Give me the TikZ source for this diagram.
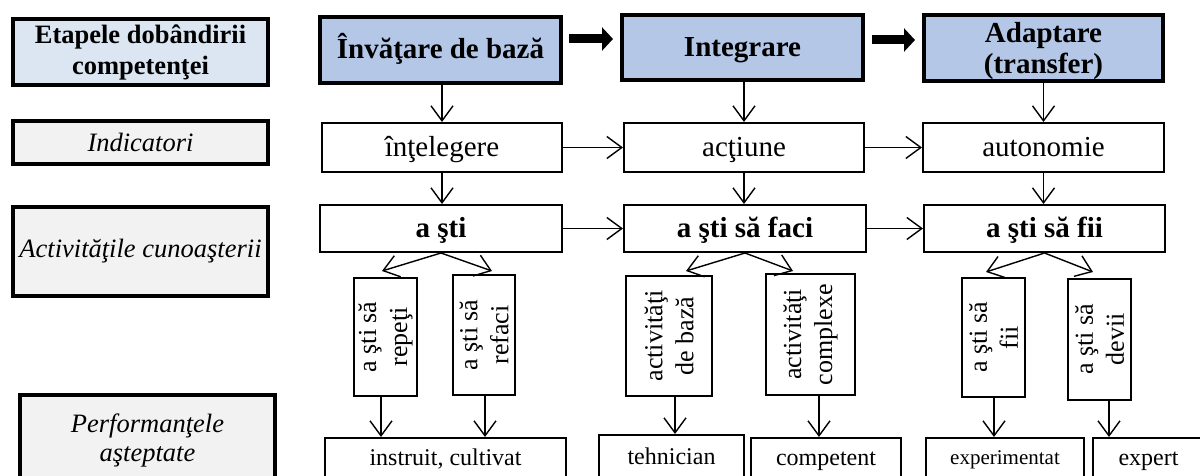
\documentclass[tikz,border=0pt]{standalone}
\usepackage{fontspec}
\setmainfont{Liberation Serif}
\usepackage{graphicx}
\usetikzlibrary{arrows.meta,calc}
\definecolor{stagefill}{HTML}{B4C7E7}
\definecolor{headfill}{HTML}{DCE6F2}
\definecolor{greyfill}{HTML}{F2F2F2}
\tikzset{
  lbl/.style={draw, line width=4pt, inner sep=0pt, align=center},
  stage/.style={draw, line width=4pt, fill=stagefill, inner sep=0pt,
    font=\fontsize{29}{31}\selectfont\bfseries},
  box/.style={draw, line width=2pt, inner sep=0pt, fill=white},
  line29/.style={text height=21.75pt, text depth=4.35pt},
  line24/.style={text height=18pt, text depth=3.6pt},
  indtxt/.style={line29, font=\fontsize{29}{32}\selectfont},
  acttxt/.style={line29, font=\fontsize{29}{31}\selectfont\bfseries},
  perftxt/.style={line24, font=\fontsize{24}{27}\selectfont},
  vtxt/.style={rotate=90, inner sep=0pt, align=center, font=\fontsize{26}{31}\selectfont},
  arr/.style={line width=1.4pt, -{Straight Barb[length=15pt, width=22pt]}},
  bigarr/.style={line width=9pt, -{Triangle[length=11pt, width=23pt]}}
}
\begin{document}
\begin{tikzpicture}[x=1pt, y=-1pt]
\useasboundingbox (0,0) rectangle (1200,476);
\clip (0,0) rectangle (1200,476);

% row labels
\node[lbl, fill=headfill, minimum width=255pt, minimum height=66pt,
  font=\fontsize{26.5}{31}\selectfont\bfseries] (h1) at (140.5,52) {Etapele dobândirii\\competenţei};
\node[lbl, fill=greyfill, minimum width=255pt, minimum height=43pt,
  font=\fontsize{26.5}{31}\selectfont\itshape] (h2) at (140.5,142.5) {Indicatori};
\node[lbl, fill=greyfill, minimum width=255pt, minimum height=89pt,
  font=\fontsize{26.5}{31}\selectfont\itshape] (h3) at (140.5,251.5) {Activităţile cunoaşterii};
\node[lbl, fill=greyfill, minimum width=255pt, minimum height=90pt,
  font=\fontsize{26.5}{29}\selectfont\itshape] (h4) at (147.5,440) {Performanţele\\aşteptate};

% stages
\node[stage, line29, minimum width=241pt, minimum height=66pt] (s1) at (440.5,50) {Învăţare de bază};
\node[stage, line29, minimum width=241pt, minimum height=65pt] (s2) at (742.5,47.5) {Integrare};
\node[stage, minimum width=239pt, minimum height=66pt] (s3) at (1043.5,48) {};
\node[align=center, inner sep=0pt, font=\fontsize{29}{31}\selectfont\bfseries] at (1043.5,51) {Adaptare\\(transfer)};

% indicators
\node[box, indtxt, minimum width=240pt, minimum height=49pt] (i1) at (442,147.5) {înţelegere};
\node[box, indtxt, minimum width=240pt, minimum height=49pt] (i2) at (744,147.5) {acţiune};
\node[box, indtxt, minimum width=241pt, minimum height=49pt] (i3) at (1043.5,147.5) {autonomie};

% activities
\node[box, acttxt, minimum width=242pt, minimum height=47pt] (a1) at (441,228.5) {a şti};
\node[box, acttxt, minimum width=242pt, minimum height=47pt] (a2) at (745,228.5) {a şti să faci};
\node[box, acttxt, minimum width=241pt, minimum height=47pt] (a3) at (1044.5,228.5) {a şti să fii};

% sub-activities (vertical text)
\node[box, minimum width=63pt, minimum height=118pt] (v1) at (385.5,337) {};
\node[vtxt] at (v1) {a şti să\\repeţi};
\node[box, minimum width=62pt, minimum height=120pt] (v2) at (484,335) {};
\node[vtxt] at (v2) {a şti să\\refaci};
\node[box, minimum width=86pt, minimum height=120pt] (v3) at (669,336) {};
\node[vtxt] at (v3) {activităţi\\de bază};
\node[box, minimum width=89pt, minimum height=121pt] (v4) at (810.5,334.5) {};
\node[vtxt] at (v4) {activităţi\\complexe};
\node[box, minimum width=63pt, minimum height=119pt] (v5) at (993.5,337.5) {};
\node[vtxt] at (v5) {a şti să\\fii};
\node[box, minimum width=63pt, minimum height=121pt] (v6) at (1099.5,339.5) {};
\node[vtxt] at (v6) {a şti să\\devii};

% expected performances
\node[box, perftxt, minimum width=241pt, minimum height=40pt] (p1) at (445.5,458) {instruit, cultivat};
\node[box, perftxt, minimum width=145pt, minimum height=44pt] (p2) at (671.5,457) {tehnician};
\node[box, perftxt, minimum width=150pt, minimum height=40pt] (p3) at (826,458) {competent};
\node[box, text height=15.75pt, text depth=3.15pt, minimum width=158pt, minimum height=40pt,
  font=\fontsize{21}{24}\selectfont] (p4) at (1005,458) {experimentat};
\node[box, perftxt, minimum width=111pt, minimum height=40pt] (p5) at (1148.5,458) {expert};

% thick arrows between stages
\coordinate (ya) at (0,39);
\coordinate (yb) at (0,40);
\draw[bigarr, shorten <=6pt, shorten >=7pt] (s1.east |- ya) -- (s2.west |- ya);
\draw[bigarr, shorten <=7pt, shorten >=7pt] (s2.east |- yb) -- (s3.west |- yb);

% stage -> indicator
\draw[arr] (i1.north |- s1.south) -- (i1.north);
\draw[arr] (i2.north |- s2.south) -- (i2.north);
\draw[arr] (i3.north |- s3.south) -- (i3.north);

% indicator -> activity
\draw[arr] (i1.south) -- (i1.south |- a1.north);
\draw[arr] (i2.south) -- (i2.south |- a2.north);
\draw[arr] (i3.south) -- (i3.south |- a3.north);

% horizontal links
\draw[arr] (i1.east) -- (i2.west);
\draw[arr] (i2.east) -- (i3.west);
\draw[arr] (a1.east) -- (a1.east -| a2.west);
\draw[arr] (a2.east) -- (a2.east -| a3.west);

% activity -> sub-activities
\coordinate (t1) at (382,271);
\coordinate (t2) at (492,271);
\coordinate (t3) at (686,271);
\coordinate (t4) at (793,271);
\coordinate (t5) at (986,272);
\coordinate (t6) at (1093,272);
\draw[arr] (a1.south) -- (t1);
\draw[arr] (a1.south) -- (t2);
\draw[arr] (a2.south) -- (t3);
\draw[arr] (a2.south) -- (t4);
\draw[arr] (a3.south) -- (t5);
\draw[arr] (a3.south) -- (t6);

% sub-activities -> performances
\draw[arr] ($(v1.south)+(-4.5,0)$) -- ($(v1.south |- p1.north)+(-4.5,0)$);
\draw[arr] ($(v2.south)+(1,0)$) -- ($(v2.south |- p1.north)+(1,0)$);
\draw[arr] ($(v3.south)+(6,0)$) -- ($(v3.south |- p2.north)+(6,0)$);
\draw[arr] ($(v4.south)+(8.5,0)$) -- ($(v4.south |- p3.north)+(8.5,0)$);
\draw[arr] ($(v5.south)+(0.5,0)$) -- ($(v5.south |- p4.north)+(0.5,0)$);
\draw[arr] ($(v6.south)+(9.5,0)$) -- ($(v6.south |- p5.north)+(9.5,0)$);
\end{tikzpicture}
\end{document}
